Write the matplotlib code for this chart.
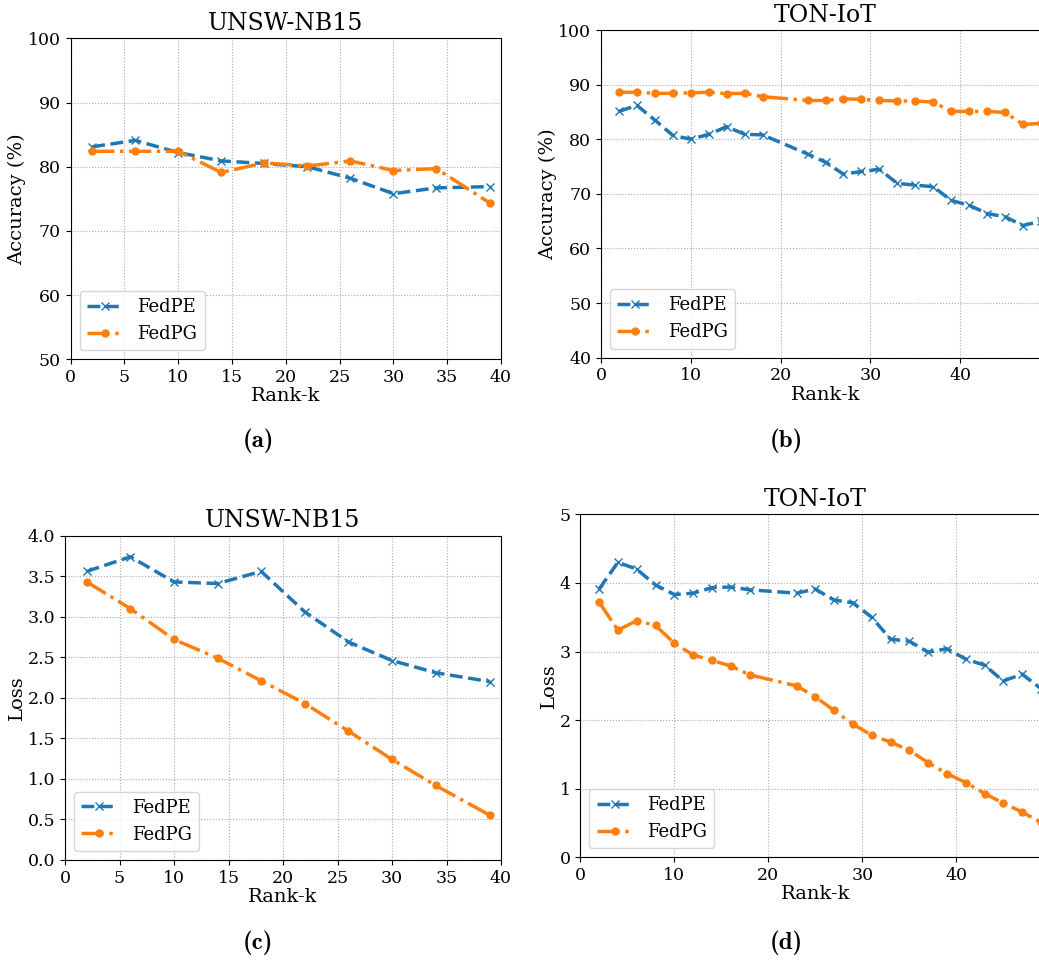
import matplotlib
matplotlib.use("Agg")
import matplotlib.pyplot as plt

plt.rcParams["font.family"] = "DejaVu Serif"

# UNSW-NB15 (panels a, c)
unsw_k = [2, 6, 10, 14, 18, 22, 26, 30, 34, 39]
unsw_acc_fedpe = [83.1, 84.1, 82.2, 80.9, 80.5, 80.0, 78.2, 75.8, 76.7, 76.9]
unsw_acc_fedpg = [82.4, 82.4, 82.4, 79.1, 80.6, 80.1, 80.9, 79.4, 79.7, 74.3]
unsw_loss_fedpe = [3.56, 3.74, 3.43, 3.41, 3.56, 3.06, 2.69, 2.46, 2.31, 2.20]
unsw_loss_fedpg = [3.43, 3.10, 2.72, 2.49, 2.21, 1.93, 1.59, 1.24, 0.92, 0.55]

# TON-IoT (panels b, d)
ton_k = [2, 4, 6, 8, 10, 12, 14, 16, 18, 23, 25, 27, 29, 31, 33, 35, 37, 39, 41, 43, 45, 47, 49]
ton_acc_fedpe = [85.1, 86.2, 83.5, 80.7, 80.0, 80.9, 82.3, 80.9, 80.8, 77.3, 75.8, 73.6,
                 74.1, 74.5, 71.9, 71.6, 71.3, 68.8, 67.9, 66.4, 65.8, 64.2, 65.0]
ton_acc_fedpg = [88.6, 88.6, 88.4, 88.4, 88.5, 88.6, 88.35, 88.4, 87.8, 87.1, 87.1, 87.4,
                 87.3, 87.1, 87.0, 87.0, 86.8, 85.1, 85.1, 85.1, 84.9, 82.7, 82.9]
ton_loss_fedpe = [3.91, 4.30, 4.20, 3.97, 3.83, 3.85, 3.93, 3.94, 3.90, 3.85, 3.91, 3.75,
                  3.71, 3.50, 3.18, 3.15, 2.99, 3.04, 2.89, 2.80, 2.57, 2.67, 2.46]
ton_loss_fedpg = [3.72, 3.31, 3.45, 3.38, 3.12, 2.95, 2.87, 2.79, 2.66, 2.50, 2.34, 2.14,
                  1.94, 1.78, 1.68, 1.56, 1.38, 1.22, 1.09, 0.93, 0.79, 0.66, 0.51]

W, H = 1039, 965
fig = plt.figure(figsize=(W / 100, H / 100), dpi=100)


def add_ax(left, right, top, bottom):
    return fig.add_axes([left / W, 1 - bottom / H, (right - left) / W, (bottom - top) / H])


def draw(ax, k, pe, pg, title, ylabel, xlim, ylim, xticks, yticks):
    ax.plot(k, pe, linestyle="--", marker="x", color="tab:blue", lw=2.5, ms=6, label="FedPE")
    ax.plot(k, pg, linestyle="-.", marker="o", color="tab:orange", lw=2.5, ms=5, label="FedPG")
    ax.set_xlim(*xlim)
    ax.set_ylim(*ylim)
    ax.set_xticks(xticks)
    ax.set_yticks(yticks)
    ax.grid(True, linestyle=":", color="#a8a8a8", lw=0.8)
    ax.tick_params(labelsize=12.5)
    ax.set_title(title, fontsize=17)
    ax.set_xlabel("Rank-k", fontsize=14, labelpad=1)
    ax.set_ylabel(ylabel, fontsize=14, labelpad=1)
    ax.legend(loc="lower left", fontsize=13)


ax_a = add_ax(70.7, 501, 38.3, 359.3)
draw(ax_a, unsw_k, unsw_acc_fedpe, unsw_acc_fedpg, "UNSW-NB15", "Accuracy (%)",
     (0, 40), (50, 100), range(0, 41, 5), range(50, 101, 10))

# right-hand panels run past the figure edge, as in the cropped original
ax_b = add_ax(601, 1050, 30, 357.7)
draw(ax_b, ton_k, ton_acc_fedpe, ton_acc_fedpg, "TON-IoT", "Accuracy (%)",
     (0, 50), (40, 100), range(0, 41, 10), range(40, 101, 10))

ax_c = add_ax(65, 501, 535.7, 860)
draw(ax_c, unsw_k, unsw_loss_fedpe, unsw_loss_fedpg, "UNSW-NB15", "Loss",
     (0, 40), (0, 4.0), range(0, 41, 5), [i * 0.5 for i in range(9)])
ax_c.set_yticklabels([f"{i * 0.5:.1f}" for i in range(9)])

ax_d = add_ax(580.3, 1050.3, 514.3, 857.3)
draw(ax_d, ton_k, ton_loss_fedpe, ton_loss_fedpg, "TON-IoT", "Loss",
     (0, 50), (0, 5), range(0, 41, 10), range(0, 6))

for label, x, y in [("(a)", 258, 441), ("(b)", 786, 441), ("(c)", 258, 943), ("(d)", 786, 943)]:
    fig.text(x / W, 1 - y / H, label, ha="center", va="center", fontsize=18, family="cmb10")

fig.savefig("out.png", dpi=100)
plt.close(fig)
